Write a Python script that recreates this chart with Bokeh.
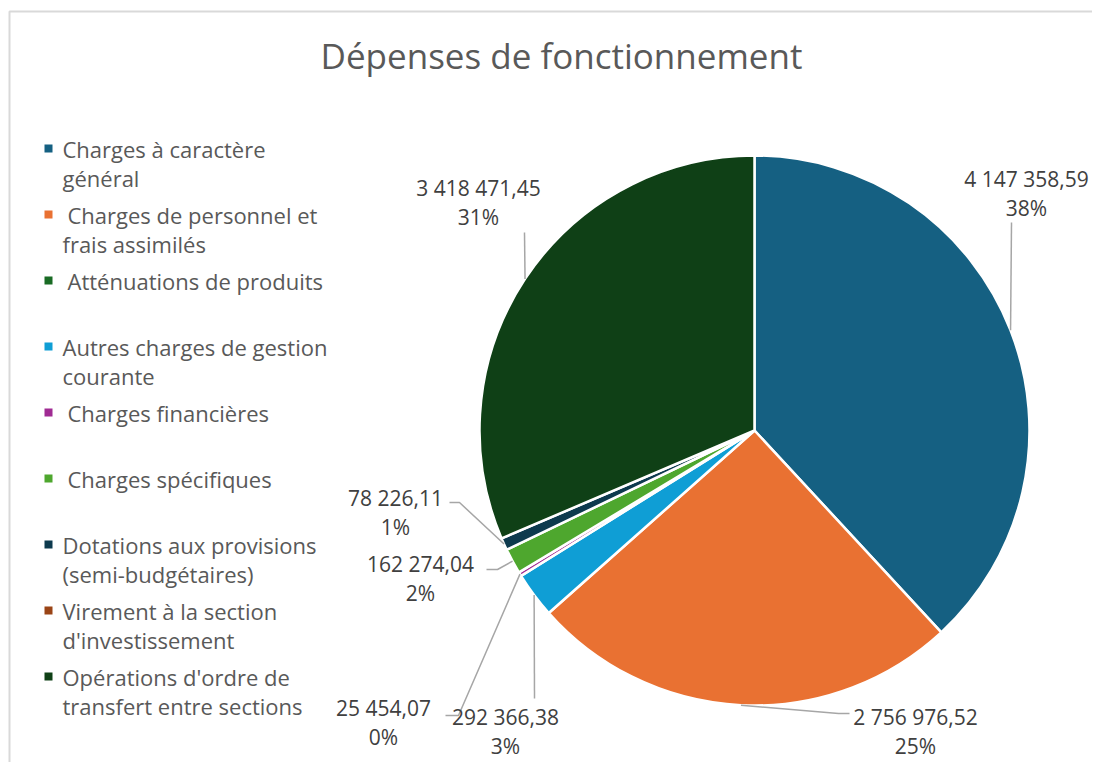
import math
from bokeh.plotting import figure
from bokeh.models import Range1d, ColumnDataSource
from bokeh.core.properties import value
from bokeh.embed import file_html
from bokeh.resources import INLINE

# ---------------- data ----------------
title = "Dépenses de fonctionnement"
categories = [
    "Charges à caractère général",
    "Charges de personnel et frais assimilés",
    "Atténuations de produits",
    "Autres charges de gestion courante",
    "Charges financières",
    "Charges spécifiques",
    "Dotations aux provisions (semi-budgétaires)",
    "Virement à la section d'investissement",
    "Opérations d'ordre de transfert entre sections",
]
legend_lines = [
    ["Charges à caractère", "général"],
    [" Charges de personnel et", "frais assimilés"],
    [" Atténuations de produits", ""],
    ["Autres charges de gestion", "courante"],
    [" Charges financières", ""],
    [" Charges spécifiques", ""],
    ["Dotations aux provisions", "(semi-budgétaires)"],
    ["Virement à la section", "d'investissement"],
    ["Opérations d'ordre de", "transfert entre sections"],
]
values = [4147358.59, 2756976.52, 0.0, 292366.38, 25454.07,
          162274.04, 78226.11, 0.0, 3418471.45]
value_labels = ["4 147 358,59", "2 756 976,52", "", "292 366,38", "25 454,07",
                "162 274,04", "78 226,11", "", "3 418 471,45"]
pct_labels = ["38%", "25%", "", "3%", "0%", "2%", "1%", "", "31%"]
colors = ["#156082", "#E97132", "#196B24", "#0F9ED5", "#A02B93",
          "#4EA72E", "#0D3A4E", "#9A4416", "#0F4016"]

# ---------------- layout ----------------
W, H = 1092, 762
FONT = "Open Sans"
CX, CY, R = 754, 430, 275          # pie centre / radius in page pixels

# label layout: index -> (text centre x, first line y, leader points from text side)
label_layout = {
    0: (1026, 178, [(1011, 222)]),
    1: (915, 716, [(849, 713), (838, 713)]),
    4: (383, 707, [(445, 715), (458, 715)]),
    3: (505, 716, [(534, 698)]),
    5: (420, 563, [(486, 569), (497, 569)]),
    6: (395, 497, [(449, 502), (459, 502)]),
    8: (478, 187, [(524, 232)]),
}
LINE_GAP = 29

p = figure(width=W, height=H, output_backend="svg", toolbar_location=None,
           x_range=Range1d(0, W), y_range=Range1d(-H, 0),
           min_border=0, outline_line_color=None)
p.axis.visible = False
p.grid.visible = False
p.background_fill_color = "white"
p.border_fill_color = "white"

# chart border (left + top)
p.line(x=[9, 9, W], y=[-H, -11, -11], line_color="#d9d9d9", line_width=2)

# title
p.text(x=[561], y=[-55], text=[title], text_font=value(FONT), text_font_size="35px",
       text_color="#595959", text_align="center", text_baseline="middle")

# pie
total = sum(values)
starts, ends, mids = [], [], []
cum = 0.0
for v in values:
    a0 = math.pi / 2 - 2 * math.pi * cum / total
    cum += v
    a1 = math.pi / 2 - 2 * math.pi * cum / total
    starts.append(a0)
    ends.append(a1)
    mids.append((a0 + a1) / 2)

idx = [i for i, v in enumerate(values) if v > 0]
src = ColumnDataSource(dict(
    x=[CX] * len(idx), y=[-CY] * len(idx),
    start=[starts[i] for i in idx], end=[ends[i] for i in idx],
    color=[colors[i] for i in idx]))
p.wedge(x="x", y="y", radius=R, start_angle="start", end_angle="end",
        direction="clock", fill_color="color", line_color="white",
        line_width=2.5, source=src)

# data labels + leader lines
lx, ly, lt = [], [], []
leaders_x, leaders_y = [], []
for i, (tx, ty, pts) in label_layout.items():
    lx += [tx, tx]
    ly += [-ty, -(ty + LINE_GAP)]
    lt += [value_labels[i], pct_labels[i]]
    ex = CX + R * math.cos(mids[i])
    ey = -CY + R * math.sin(mids[i])
    xs = [q[0] for q in pts] + [ex]
    ys = [-q[1] for q in pts] + [ey]
    leaders_x.append(xs)
    leaders_y.append(ys)

p.multi_line(xs=leaders_x, ys=leaders_y, line_color="#a6a6a6", line_width=1.5)
p.text(x=lx, y=ly, text=lt, text_font=value(FONT), text_font_size="21px",
       text_color="#404040", text_align="center", text_baseline="middle")

# legend
LEG_X, LEG_Y0, LEG_STEP = 48, 148, 66
mx, my, tx_, ty_, tt = [], [], [], [], []
for k, lines in enumerate(legend_lines):
    y0 = LEG_Y0 + LEG_STEP * k
    mx.append(LEG_X)
    my.append(-y0)
    for j, line in enumerate(lines):
        if line:
            offset = 5 if line.startswith(" ") else 0
            tx_.append(62 + offset)
            ty_.append(-(y0 + j * LINE_GAP))
            tt.append(line.strip())
p.scatter(x=mx, y=my, marker="square", size=8, fill_color=colors, line_color=None)
p.text(x=tx_, y=ty_, text=tt, text_font=value(FONT), text_font_size="22px",
       text_color="#595959", text_align="left", text_baseline="middle")

open("out.html", "w").write(file_html(p, INLINE))
